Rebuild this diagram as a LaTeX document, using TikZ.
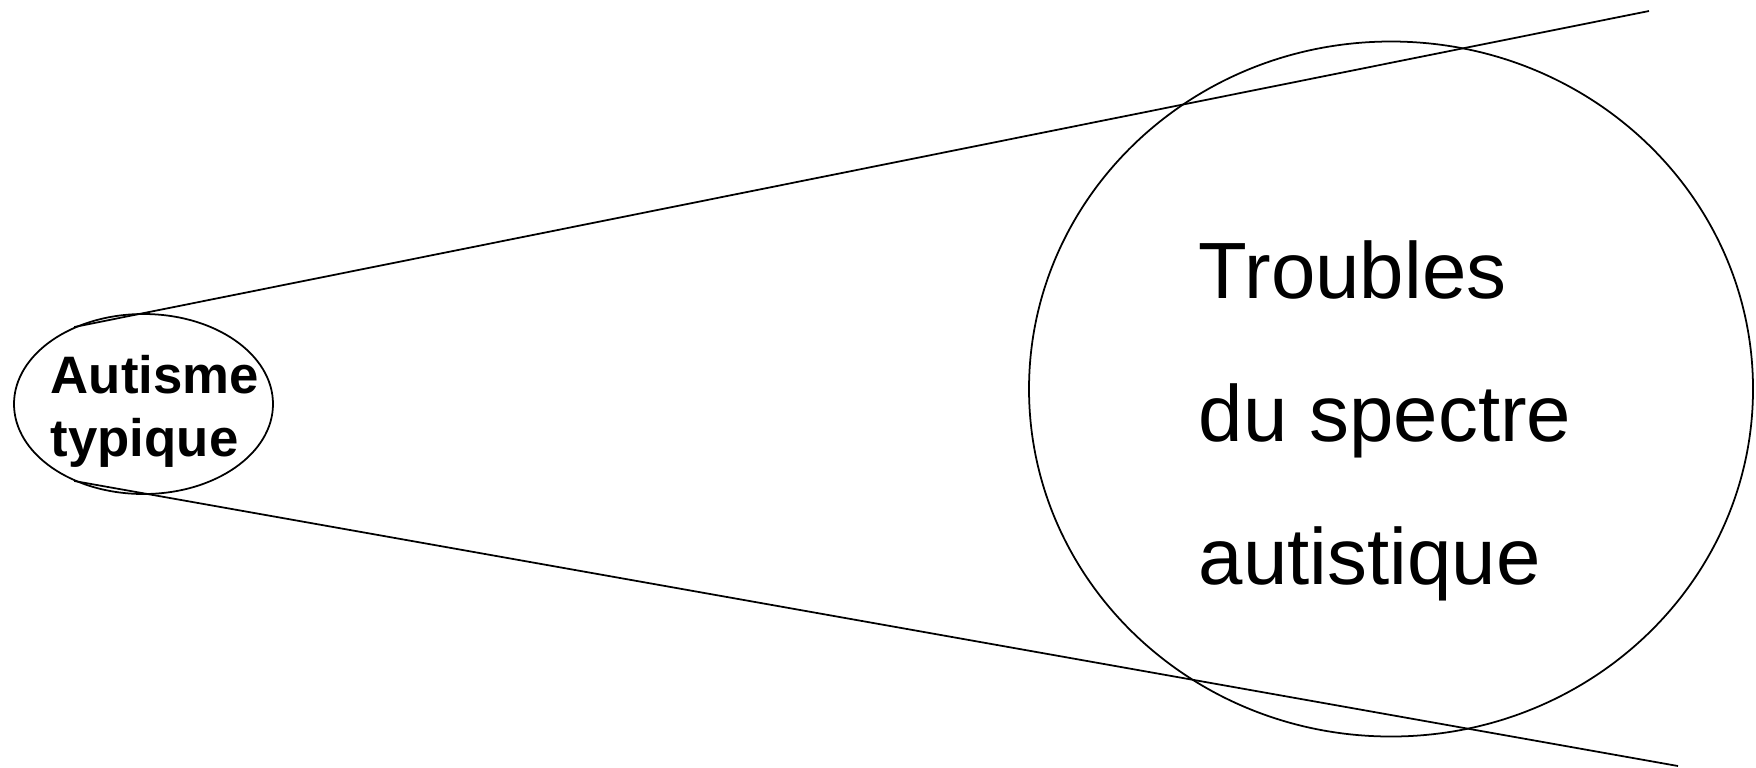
\documentclass[tikz,border=0pt]{standalone}
\usepackage{fontspec}
\setmainfont{Liberation Sans}
\usepackage{tikz}
\usetikzlibrary{shapes.geometric,positioning}
\tikzstyle{bubble}=[draw,ellipse,inner sep=0pt,line width=0.5pt]
\tikzstyle{smalltext}=[inner sep=0pt,align=left,font=\fontsize{15}{17.9}\selectfont\bfseries]
\tikzstyle{bigtext}=[inner sep=0pt,align=left,font=\fontsize{22.7}{40.7}\selectfont]

\begin{document}
\begin{tikzpicture}[line width=0.5pt]
\useasboundingbox (0,0) rectangle (17.56,-7.67);
\draw (1.435,-4.04) node [bubble, minimum width=2.59cm, minimum height=1.80cm] (autisme) {};
\draw (13.91,-3.89) node [bubble, minimum width=7.24cm, minimum height=6.95cm] (tsa) {};
\draw (0.50,-3.54) node [smalltext, anchor=north west] (autismetext) {Autisme\\typique};
\draw (11.98,-2.395) node [bigtext, anchor=north west] (tsatext) {Troubles\\du spectre\\autistique};
\coordinate (hautfin) at (16.49,-0.11);
\coordinate (basfin) at (16.78,-7.66);
\draw (autisme.132) -- (hautfin);
\draw (autisme.228) -- (basfin);
\end{tikzpicture}
\end{document}
